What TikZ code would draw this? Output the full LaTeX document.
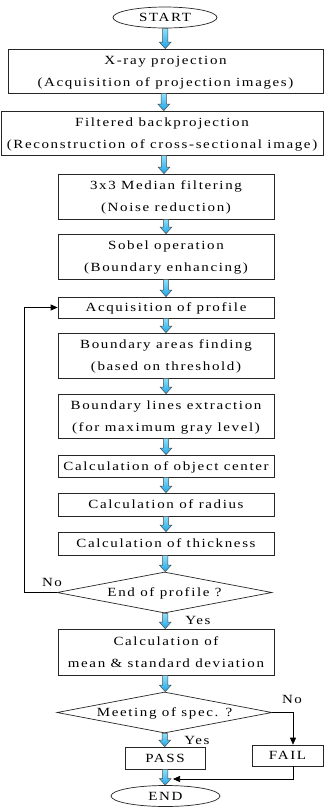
\documentclass[tikz,border=0pt]{standalone}
\usepackage{fontspec}
\setmainfont{Liberation Serif}[FakeStretch=1.2,LetterSpace=13]
\usetikzlibrary{shapes.geometric,arrows.meta,calc}
\definecolor{arrtop}{RGB}{140,225,252}
\definecolor{arrbot}{RGB}{30,165,230}
\tikzset{
  every node/.style={font=\fontsize{12.5}{22}\selectfont},
  box/.style={draw=black!85,line width=0.7pt,rectangle,inner sep=0pt,align=center,text depth=0pt},
  oval/.style={draw=black!85,line width=0.7pt,ellipse,inner sep=0pt,text depth=0pt},
  decide/.style={draw=black!85,line width=0.7pt,diamond,aspect=5.2,inner sep=0pt,text depth=0pt},
  flowarrow/.style={draw=black!70,line width=0.5pt,top color=arrtop,bottom color=arrbot},
  link/.style={draw=black,line width=0.7pt},
  tip/.style={-{Triangle[length=7pt,width=6pt]}},
  lbl/.style={inner sep=0pt}
}
\newcommand\flowarr[2]{%
  \path[flowarrow] let \p1=(#1.south), \p2=(#2.north), \p3=($(#1.south)!0.5!(#2.north)$) in
    (\x3-2.6pt,\y1) -- (\x3+2.6pt,\y1) -- (\x3+2.6pt,\y2+6.5pt) -- (\x3+5.8pt,\y2+6.5pt)
    -- (\x3,\y2) -- (\x3-5.8pt,\y2+6.5pt) -- (\x3-2.6pt,\y2+6.5pt) -- cycle;}
\begin{document}
\begin{tikzpicture}[x=1pt,y=-1pt]
\fill[white] (0,0) rectangle (324,807);
\useasboundingbox (0,0) rectangle (324,807);

\node[oval,minimum width=104pt,minimum height=21pt] (start) at (165,17.5) {START};
\node[box,minimum width=315pt,minimum height=44pt] (b1) at (165.5,71) {X-ray projection\\(Acquisition of projection images)};
\node[box,minimum width=322pt,minimum height=44pt] (b2) at (162,133) {Filtered backprojection\\(Reconstruction of cross-sectional image)};
\node[box,minimum width=216pt,minimum height=45pt] (b3) at (166,196.5) {3x3 Median filtering\\(Noise reduction)};
\node[box,minimum width=216pt,minimum height=45pt] (b4) at (166,256.5) {Sobel operation\\(Boundary enhancing)};
\node[box,minimum width=216pt,minimum height=21pt] (b5) at (166,307.5) {Acquisition of profile};
\node[box,minimum width=216pt,minimum height=45pt] (b6) at (166,355.5) {Boundary areas finding\\(based on threshold)};
\node[box,minimum width=216pt,minimum height=44pt] (b7) at (166,416) {Boundary lines extraction\\(for maximum gray level)};
\node[box,minimum width=216pt,minimum height=22pt] (b8) at (166,466) {Calculation of object center};
\node[box,minimum width=216pt,minimum height=23pt] (b9) at (166,504.5) {Calculation of radius};
\node[box,minimum width=216pt,minimum height=23pt] (b10) at (166,543.5) {Calculation of thickness};
\node[decide,minimum width=215pt,minimum height=41pt] (d1) at (164.5,592.5) {End of profile ?};
\node[box,minimum width=216pt,minimum height=46pt] (b11) at (166,652) {Calculation of\\mean \& standard deviation};
\node[decide,minimum width=215pt,minimum height=41pt] (d2) at (164.5,712.5) {Meeting of spec. ?};
\node[box,minimum width=80pt,minimum height=22pt] (pass) at (165,758) {PASS};
\node[box,minimum width=71pt,minimum height=21pt] (fail) at (287.5,755.5) {FAIL};
\node[oval,minimum width=109pt,minimum height=21pt] (end) at (165.5,796) {END};

\flowarr{start}{b1}
\flowarr{b1}{b2}
\flowarr{b2}{b3}
\flowarr{b3}{b4}
\flowarr{b4}{b5}
\flowarr{b5}{b6}
\flowarr{b6}{b7}
\flowarr{b7}{b8}
\flowarr{b8}{b9}
\flowarr{b9}{b10}
\flowarr{b10}{d1}
\flowarr{d1}{b11}
\flowarr{b11}{d2}
\flowarr{d2}{pass}
\flowarr{pass}{end}

\coordinate (loopx) at (24,0);
\draw[link,tip] (d1.west) -- (d1.west -| loopx) |- (b5.west);
\node[lbl] (no1) at (52,582) {No};
\node[lbl] (yes1) at (198,620) {Yes};

\coordinate (failx) at (293,0);
\coordinate (ret) at (173,779);
\draw[link,tip] (d2.east) -| (fail.north -| failx);
\draw[link,tip] (fail.south -| failx) |- (ret);
\node[lbl] (no2) at (292,699) {No};
\node[lbl] (yes2) at (197,740) {Yes};
\end{tikzpicture}
\end{document}
